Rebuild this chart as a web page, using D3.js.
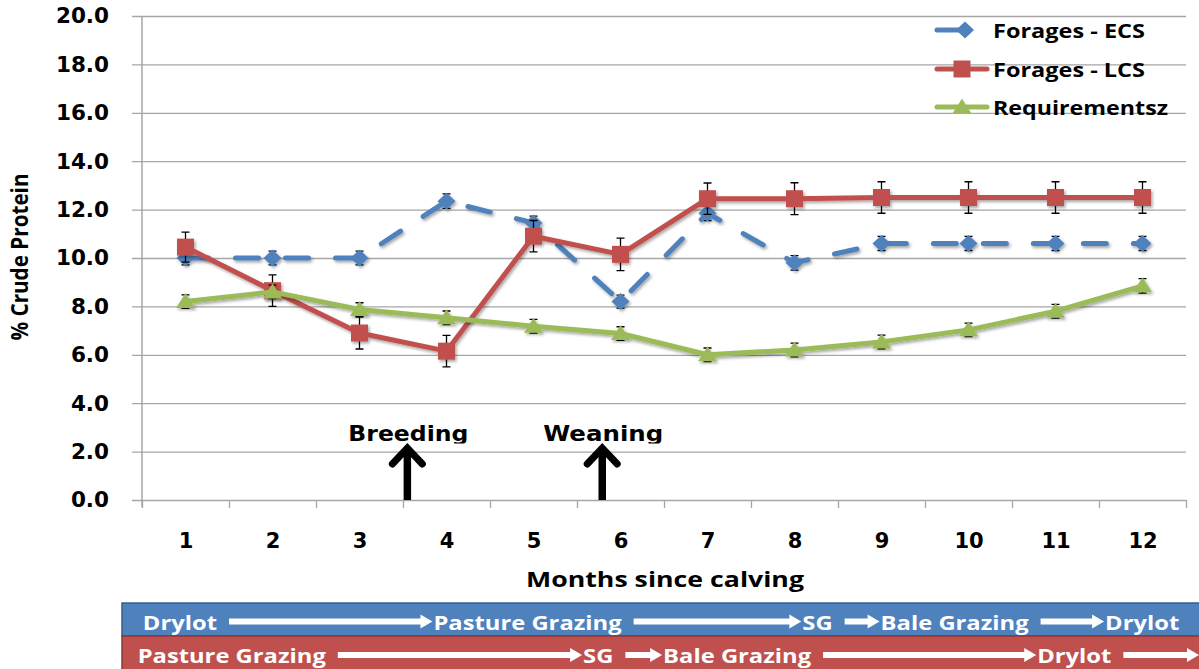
<!DOCTYPE html>
<html>
<head>
<meta charset="utf-8">
<script src="https://cdn.jsdelivr.net/npm/d3@7"></script>
<style>
body{margin:0;background:#fff}
svg{display:block}
</style>
</head>
<body>
<svg id="chart" width="1199" height="669"></svg>
<script>
// dati
const months = [1, 2, 3, 4, 5, 6, 7, 8, 9, 10, 11, 12]
const ecs = [10.0, 10.0, 10.0, 12.35, 11.45, 8.2, 11.85, 9.8, 10.6, 10.6, 10.6, 10.6]
const ecsErr = [0.28, 0.28, 0.28, 0.3, 0.28, 0.27, 0.3, 0.3, 0.29, 0.29, 0.29, 0.29]
const lcs = [10.45, 8.65, 6.9, 6.15, 10.9, 10.15, 12.45, 12.45, 12.5, 12.5, 12.5, 12.5]
const lcsErr = [0.62, 0.65, 0.66, 0.65, 0.65, 0.67, 0.65, 0.66, 0.65, 0.65, 0.65, 0.65]
const req = [8.2, 8.6, 7.87, 7.53, 7.18, 6.88, 6.0, 6.2, 6.53, 7.03, 7.8, 8.85]
const reqErr = [0.28, 0.28, 0.28, 0.28, 0.28, 0.28, 0.28, 0.28, 0.28, 0.28, 0.28, 0.3]
const seriesNames = ["Forages - ECS", "Forages - LCS", "Requirementsz"]
const yTicks = [0, 2, 4, 6, 8, 10, 12, 14, 16, 18, 20]
const events = ["Breeding", "Weaning"]
const eventMonths = [3.55, 5.79]
// fasi di gestione (mese di inizio)
const ecsPhases = ["Drylot", "Pasture Grazing", "SG", "Bale Grazing", "Drylot"]
const ecsPhaseStart = [0.51, 3.85, 8.09, 8.99, 11.57]
const lcsPhases = ["Pasture Grazing", "SG", "Bale Grazing", "Drylot"]
const lcsPhaseStart = [0.45, 5.57, 6.49, 10.79]

const svg = d3.select('#chart')
const pLeft = 142, pRight = 1186, pTop = 16, pBottom = 500
const blu = "#4F81BD", rosso = "#C0504D", verde = "#9BBB59"
const grigio = "#A6A6A6"
const verdana = "'DejaVu Sans', Verdana, sans-serif"
const calibri = "'Open Sans', Lato, sans-serif"

const x = d3.scaleLinear().domain([0.5, 12.5]).range([pLeft, pRight])
const y = d3.scaleLinear().domain([0, 20]).range([pBottom, pTop])

const defs = svg.append("defs")
defs.append("filter").attr("id", "ombra")
  .attr("x", "-20%").attr("y", "-20%").attr("width", "140%").attr("height", "140%")
  .append("feDropShadow")
  .attr("dx", 1.5).attr("dy", 2).attr("stdDeviation", 1.5)
  .attr("flood-color", "#000").attr("flood-opacity", 0.35)
defs.append("clipPath").attr("id", "taglio")
  .append("rect").attr("x", 0).attr("y", 0).attr("width", 1199).attr("height", 443.5)

// griglia
svg.append('g')
  .attr('transform', `translate(${pLeft - 10},0)`)
  .call(d3.axisLeft(y).tickValues(yTicks).tickSize(-(pRight - pLeft + 10)).tickFormat(''))
  .call(g => g.select('.domain').remove())
  .selectAll('line').attr('stroke', grigio).attr('stroke-width', 1.3)

// etichette asse y
svg.append('g')
  .attr('transform', `translate(${pLeft},0)`)
  .call(d3.axisLeft(y).tickValues(yTicks).tickSize(0).tickPadding(33).tickFormat(d3.format('.1f')))
  .call(g => g.select('.domain').remove())
  .selectAll('text')
  .attr('font-family', verdana).attr('font-weight', 'bold').attr('font-size', '21.5px').attr('fill', '#000')

svg.append('line')
  .attr('x1', pLeft).attr('x2', pLeft).attr('y1', pTop).attr('y2', pBottom + 7)
  .attr('stroke', grigio).attr('stroke-width', 1.5)

// asse x
svg.append('g')
  .attr('transform', `translate(0,${pBottom})`)
  .call(d3.axisBottom(x).tickValues(d3.range(0.5, 13, 1)).tickSize(8).tickFormat(''))
  .call(g => g.select('.domain').remove())
  .selectAll('line').attr('stroke', grigio).attr('stroke-width', 1.3)

svg.append('g')
  .attr('transform', `translate(0,${pBottom})`)
  .call(d3.axisBottom(x).tickValues(months).tickSize(0).tickPadding(33).tickFormat(d => d))
  .call(g => g.select('.domain').remove())
  .selectAll('text')
  .attr('font-family', verdana).attr('font-weight', 'bold').attr('font-size', '21px').attr('fill', '#000')

svg.append('text')
  .attr('x', 665).attr('y', 587)
  .attr('text-anchor', 'middle')
  .attr('font-family', calibri).attr('font-weight', 'bold').attr('font-size', '22px')
  .attr('textLength', 278).attr('lengthAdjust', 'spacingAndGlyphs')
  .text('Months since calving')

svg.append('text')
  .attr('transform', 'translate(28,257) rotate(-90)')
  .attr('text-anchor', 'middle')
  .attr('font-family', calibri).attr('font-weight', 'bold').attr('font-size', '23px')
  .attr('textLength', 167).attr('lengthAdjust', 'spacingAndGlyphs')
  .text('% Crude Protein')

// eventi
events.forEach((ev, i) => {
  const ex = x(eventMonths[i])
  svg.append('text')
    .attr('x', ex + 1).attr('y', 441)
    .attr('clip-path', 'url(#taglio)')
    .attr('text-anchor', 'middle')
    .attr('font-family', verdana).attr('font-weight', 'bold').attr('font-size', '21px')
    .attr('textLength', 120).attr('lengthAdjust', 'spacingAndGlyphs')
    .text(ev)
  svg.append('line')
    .attr('x1', ex).attr('x2', ex).attr('y1', pBottom).attr('y2', 450)
    .attr('stroke', '#000').attr('stroke-width', 7.5)
  svg.append('path')
    .attr('d', `M${ex - 15},${464} L${ex},${448} L${ex + 15},${464}`)
    .attr('fill', 'none').attr('stroke', '#000').attr('stroke-width', 7)
    .attr('stroke-linecap', 'round').attr('stroke-linejoin', 'miter')
})

// serie
const diamante = "M0,-8.5L9,0L0,8.5L-9,0Z"
const quadrato = "M-8.5,-8.5H8.5V8.5H-8.5Z"
const triangolo = "M0,-8.5L9.5,6.5H-9.5Z"

const serie = [
  { nome: seriesNames[0], valori: ecs, errori: ecsErr, colore: blu, simbolo: diamante, tratteggio: "23,27" },
  { nome: seriesNames[1], valori: lcs, errori: lcsErr, colore: rosso, simbolo: quadrato, tratteggio: null },
  { nome: seriesNames[2], valori: req, errori: reqErr, colore: verde, simbolo: triangolo, tratteggio: null }
]

const linea = d3.line().x((d, i) => x(months[i])).y(d => y(d))

serie.forEach(s => {
  const g = svg.append('g')
  // barre di errore
  s.valori.forEach((v, i) => {
    const xx = x(months[i])
    g.append('path')
      .attr('d', `M${xx},${y(v + s.errori[i])}V${y(v - s.errori[i])}M${xx - 4},${y(v + s.errori[i])}H${xx + 4}M${xx - 4},${y(v - s.errori[i])}H${xx + 4}`)
      .attr('stroke', '#000').attr('stroke-width', 1.3).attr('fill', 'none')
  })
  const gs = g.append('g').attr('filter', 'url(#ombra)')
  gs.append('path')
    .datum(s.valori)
    .attr('d', linea)
    .attr('fill', 'none')
    .attr('stroke', s.colore).attr('stroke-width', 5)
    .attr('stroke-linecap', 'round').attr('stroke-linejoin', 'round')
    .attr('stroke-dasharray', s.tratteggio)
  gs.selectAll('path.m')
    .data(s.valori).enter()
    .append('path').attr('class', 'm')
    .attr('d', s.simbolo)
    .attr('transform', (d, i) => `translate(${x(months[i])},${y(d)})`)
    .attr('fill', s.colore)
})

// legenda
const legY = [30, 69, 107]
const legLen = [152, 152, 175]
serie.forEach((s, i) => {
  const g = svg.append('g').attr('transform', `translate(0,${legY[i]})`)
  g.append('line')
    .attr('x1', 937).attr('x2', i == 0 ? 966 : 987)
    .attr('stroke', s.colore).attr('stroke-width', 5).attr('stroke-linecap', 'round')
  g.append('path').attr('d', s.simbolo).attr('fill', s.colore)
    .attr('transform', `translate(${i == 0 ? 965 : 962},0)`)
  g.append('text')
    .attr('x', 993).attr('y', 7.5)
    .attr('font-family', calibri).attr('font-weight', 'bold').attr('font-size', '20px')
    .attr('textLength', legLen[i]).attr('lengthAdjust', 'spacingAndGlyphs')
    .text(s.nome)
})

// barre delle fasi
function fasi(nomi, inizi, y0, h, colore, bordo) {
  svg.append('rect')
    .attr('x', 122).attr('y', y0).attr('width', 1090).attr('height', h)
    .attr('fill', colore).attr('stroke', bordo).attr('stroke-width', 1.5)
  const ya = y0 + h / 2 + 5
  const fine = []
  nomi.forEach((n, i) => {
    const t = svg.append('text')
      .attr('x', x(inizi[i])).attr('y', y0 + 27)
      .attr('font-family', calibri).attr('font-weight', 'bold').attr('font-size', '19px')
      .attr('fill', '#fff')
      .text(n)
    const w = t.node().getComputedTextLength() * 1.25
    t.attr('textLength', w).attr('lengthAdjust', 'spacingAndGlyphs')
    fine.push(x(inizi[i]) + w)
  })
  nomi.forEach((n, i) => {
    const x1 = fine[i] + 12
    const x2 = i < nomi.length - 1 ? x(inizi[i + 1]) - 1 : 1199
    if (x2 - x1 < 20) return
    svg.append('line')
      .attr('x1', x1).attr('x2', x2 - 10).attr('y1', ya - 3).attr('y2', ya - 3)
      .attr('stroke', '#fff').attr('stroke-width', 6)
    svg.append('path')
      .attr('d', `M${x2 - 12},${ya - 10}L${x2},${ya - 3}L${x2 - 12},${ya + 4}Z`)
      .attr('fill', '#fff')
  })
}
fasi(ecsPhases, ecsPhaseStart, 603, 33, blu, "#385D8A")
fasi(lcsPhases, lcsPhaseStart, 636, 34, rosso, "#8C3836")
</script>
</body>
</html>
